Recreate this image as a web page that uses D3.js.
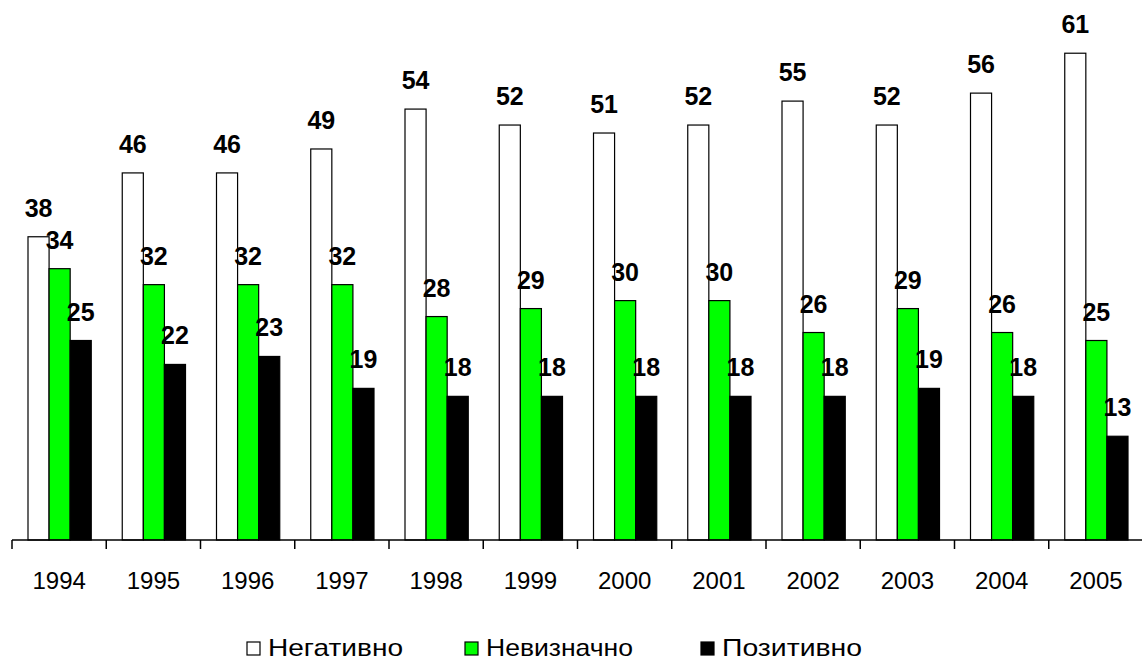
<!DOCTYPE html>
<html>
<head>
<meta charset="utf-8">
<script src="https://cdn.jsdelivr.net/npm/d3@7/dist/d3.min.js"></script>
<style>
  html, body { margin: 0; padding: 0; background: #fff; }
  svg { display: block; font-family: "Liberation Sans", Arial, sans-serif; }
</style>
</head>
<body>
<svg id="chart" width="1142" height="662"></svg>
<script>
const years = ["1994","1995","1996","1997","1998","1999","2000","2001","2002","2003","2004","2005"];
const seriesNames = ["Негативно", "Невизначно", "Позитивно"];
const negativno = [38, 46, 46, 49, 54, 52, 51, 52, 55, 52, 56, 61];
const nevyznachno = [34, 32, 32, 32, 28, 29, 30, 30, 26, 29, 26, 25];
const pozytyvno = [25, 22, 23, 19, 18, 18, 18, 18, 18, 19, 18, 13];
const seriesValues = [negativno, nevyznachno, pozytyvno];
const seriesFill = ["#ffffff", "#00ff00", "#000000"];

const svg = d3.select("#chart");
const left = 12, right = 1143, baseY = 540;

const x = d3.scaleBand().domain(years).range([left, right]).paddingInner(0).paddingOuter(0);
const inner = d3.scaleBand().domain(seriesNames).range([16, x.bandwidth() - 15]).padding(0);
const y = d3.scaleLinear().domain([0, 65]).range([baseY, baseY - 65 * 7.98]);

// bars
seriesNames.forEach((name, si) => {
  const g = svg.append("g");
  g.selectAll("rect").data(years).join("rect")
    .attr("x", d => x(d) + inner(name))
    .attr("y", (d, i) => y(seriesValues[si][i]))
    .attr("width", inner.bandwidth())
    .attr("height", (d, i) => y(0) - y(seriesValues[si][i]))
    .attr("fill", seriesFill[si])
    .attr("stroke", "#000")
    .attr("stroke-width", 1.2);
});

// labels
seriesNames.forEach((name, si) => {
  svg.append("g").selectAll("text").data(years).join("text")
    .attr("x", d => x(d) + inner(name) + inner.bandwidth() / 2)
    .attr("y", (d, i) => y(seriesValues[si][i]) - 20)
    .attr("text-anchor", "middle")
    .attr("font-size", 25)
    .attr("font-weight", "bold")
    .attr("fill", "#000")
    .text((d, i) => seriesValues[si][i]);
});

// axis
const axis = d3.axisBottom(x).tickSize(0).tickPadding(0);
const ax = svg.append("g").attr("transform", `translate(0,${baseY})`).call(axis);
ax.select(".domain").remove();
ax.selectAll(".tick text")
  .attr("y", 49)
  .attr("dy", 0)
  .attr("font-size", 24)
  .attr("font-family", "'Liberation Sans', Arial, sans-serif")
  .attr("fill", "#000");
ax.append("line").attr("x1", left).attr("x2", right).attr("y1", 0).attr("y2", 0)
  .attr("stroke", "#000").attr("stroke-width", 1.5);
ax.selectAll(".bnd").data(years).join("line").attr("class", "bnd")
  .attr("x1", d => x(d)).attr("x2", d => x(d))
  .attr("y1", 0).attr("y2", 9)
  .attr("stroke", "#000").attr("stroke-width", 1.5);

// legend
const legendX = [247, 465, 701];
const legendTextW = [135, 147, 140];
const lg = svg.append("g");
seriesNames.forEach((name, si) => {
  lg.append("rect")
    .attr("x", legendX[si]).attr("y", 642)
    .attr("width", 13).attr("height", 13)
    .attr("fill", seriesFill[si]).attr("stroke", "#000").attr("stroke-width", 1.2);
  lg.append("text")
    .attr("x", legendX[si] + 21).attr("y", 656)
    .attr("font-size", 24)
    .attr("textLength", legendTextW[si])
    .attr("lengthAdjust", "spacingAndGlyphs")
    .attr("fill", "#000")
    .text(name);
});
</script>
</body>
</html>
